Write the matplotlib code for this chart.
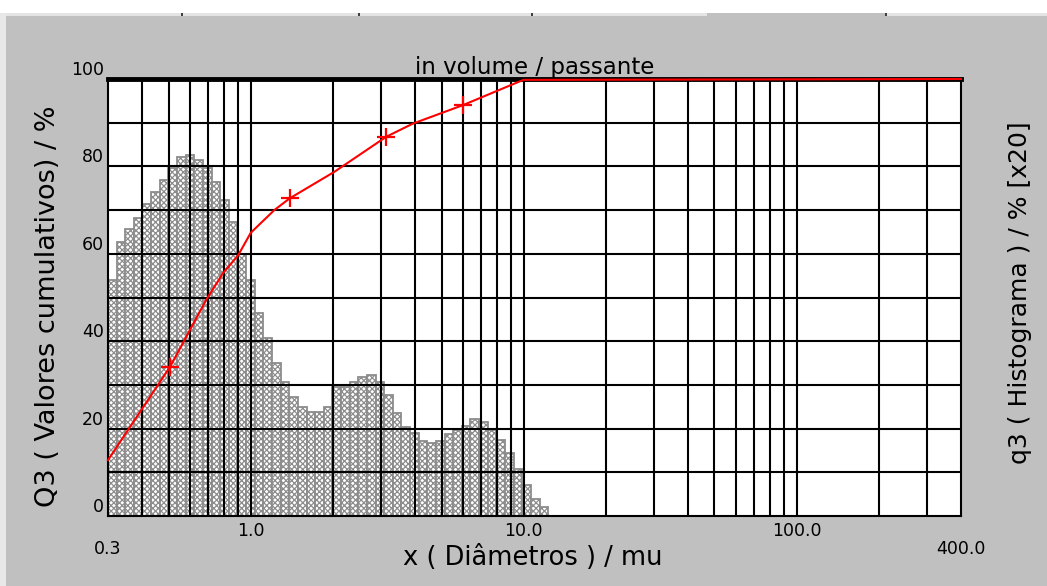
import matplotlib
matplotlib.use("Agg")
import matplotlib.pyplot as plt
import numpy as np
from matplotlib.patches import Rectangle
from matplotlib.ticker import FixedLocator

plt.rcParams['font.family'] = ['DejaVu Sans']
plt.rcParams['hatch.linewidth'] = 0.9

# histogram class edges (mu) and q3 heights (x20, in %)
bin_edges = [0.300, 0.323, 0.347, 0.373, 0.401, 0.432, 0.464, 0.499, 0.537, 0.578,
             0.621, 0.668, 0.719, 0.773, 0.831, 0.894, 0.962, 1.034, 1.112, 1.196,
             1.287, 1.384, 1.488, 1.601, 1.722, 1.852, 1.991, 2.142, 2.304, 2.478,
             2.665, 2.866, 3.082, 3.315, 3.566, 3.835, 4.124, 4.436, 4.771, 5.131,
             5.519, 5.936, 6.384, 6.866, 7.385, 7.942, 8.542, 9.187, 9.881, 10.63,
             11.43, 12.29]
q3_hist = [54.0, 62.8, 65.6, 68.3, 71.4, 74.2, 76.9, 79.6, 82.1, 82.6,
           81.5, 79.6, 76.5, 72.2, 67.3, 60.0, 54.0,
           46.4, 40.7, 34.9, 30.7, 27.2, 24.9, 23.9, 23.9, 25.0, 29.6,
           29.6, 30.7, 31.9, 32.3, 30.7, 27.7, 23.6,
           20.4, 19.0, 17.2, 16.6, 17.2, 18.8, 19.7, 20.6, 22.1, 21.6,
           19.7, 17.4, 14.5, 10.7, 7.1, 4.0, 2.1]

# cumulative curve Q3
cum_x = [0.30, 0.507, 0.686, 0.79, 0.90, 1.0, 1.22, 1.39, 2.03, 3.14, 3.93, 5.98, 9.97, 400.0]
cum_y = [12.8, 34.2, 49.4, 55.5, 59.7, 64.8, 70.0, 72.7, 78.8, 86.8, 89.8, 94.0, 99.8, 100.0]
mark_x = [0.507, 1.39, 3.14, 5.98]
mark_y = [34.2, 72.7, 86.8, 94.0]

grid_x = [0.4, 0.5, 0.6, 0.7, 0.8, 0.9, 1, 2, 3, 4, 5, 6, 7, 8, 9, 10,
          20, 30, 40, 50, 60, 70, 80, 90, 100, 200, 300]
xtick_vals = [0.3, 1, 10, 100, 400]
xtick_labels = ['0.3', '1.0', '10.0', '100.0', '400.0']

W, H = 1047, 586
fig = plt.figure(figsize=(W / 100, H / 100), dpi=100, facecolor='#c0c0c0')

# window chrome at the top
fig.patches.append(Rectangle((0, 1 - 13 / H), 1, 13 / H, transform=fig.transFigure,
                             facecolor='white', edgecolor='none'))
fig.patches.append(Rectangle((5 / W, 1 - 16 / H), 702 / W, 3 / H, transform=fig.transFigure,
                             facecolor='#e4e4e4', edgecolor='none'))
fig.patches.append(Rectangle((885 / W, 1 - 16 / H), 162 / W, 3 / H, transform=fig.transFigure,
                             facecolor='#e4e4e4', edgecolor='none'))
fig.patches.append(Rectangle((0, 0), 6 / W, 1 - 13 / H, transform=fig.transFigure,
                             facecolor='#e8e8e8', edgecolor='none'))
for px in [181, 358, 531, 885]:
    fig.patches.append(Rectangle((px / W, 1 - 16 / H), 2 / W, 3 / H, transform=fig.transFigure,
                                 facecolor='#404040', edgecolor='none'))

ax = fig.add_axes([108 / W, 1 - 516 / H, 853 / W, 437 / H])
ax.set_facecolor('white')
ax.set_xscale('log')
ax.set_xlim(0.3, 400)
ax.set_ylim(0, 100)

edges = np.array(bin_edges)
ax.bar(edges[:-1], q3_hist, width=np.diff(edges), align='edge',
       facecolor='white', edgecolor='#8c8c8c', linewidth=1.3, hatch='xxxxxx', zorder=1)

# grid
for gx in grid_x:
    ax.axvline(gx, color='black', lw=1.5, zorder=2)
for gy in range(10, 100, 10):
    ax.axhline(gy, color='black', lw=1.5, zorder=2)

ax.plot(cum_x, cum_y, color='red', lw=1.5, zorder=4, clip_on=False)
ax.plot(mark_x, mark_y, linestyle='none', marker='+', color='red', ms=13, mew=1.6, zorder=5)

ax.xaxis.set_major_locator(FixedLocator(xtick_vals))
ax.xaxis.set_minor_locator(FixedLocator([]))
ax.set_xticklabels(xtick_labels)
ax.set_yticks(range(0, 101, 20))
ax.tick_params(axis='both', length=0, labelsize=12.5)
ax.tick_params(axis='x', pad=4.5)
xt = ax.xaxis.get_major_ticks()
xt[0].set_pad(17)
xt[-1].set_pad(17)
for lab in ax.get_yticklabels():
    lab.set_verticalalignment('bottom')
ax.tick_params(axis='y', pad=3)

for s in ax.spines.values():
    s.set_linewidth(1.5)
    s.set_color('black')
ax.spines['top'].set_linewidth(3.5)

ax.set_title('in volume / passante', fontsize=16.5, pad=1)
ax.set_xlabel('x ( Diâmetros ) / mu', fontsize=18.5)
ax.xaxis.set_label_coords(0.498, -0.066)
ax.set_ylabel('Q3 ( Valores cumulativos) / %', fontsize=19.5)
ax.yaxis.set_label_coords(-0.055, 0.48)

ax2 = ax.twinx()
ax2.set_ylim(0, 100)
ax2.set_yticks([])
ax2.set_ylabel('q3 ( Histograma ) / % [x20]', fontsize=18)
ax2.yaxis.set_label_coords(1.055, 0.51)
for s in ax2.spines.values():
    s.set_visible(False)

fig.savefig('out.png', dpi=100, facecolor=fig.get_facecolor())
